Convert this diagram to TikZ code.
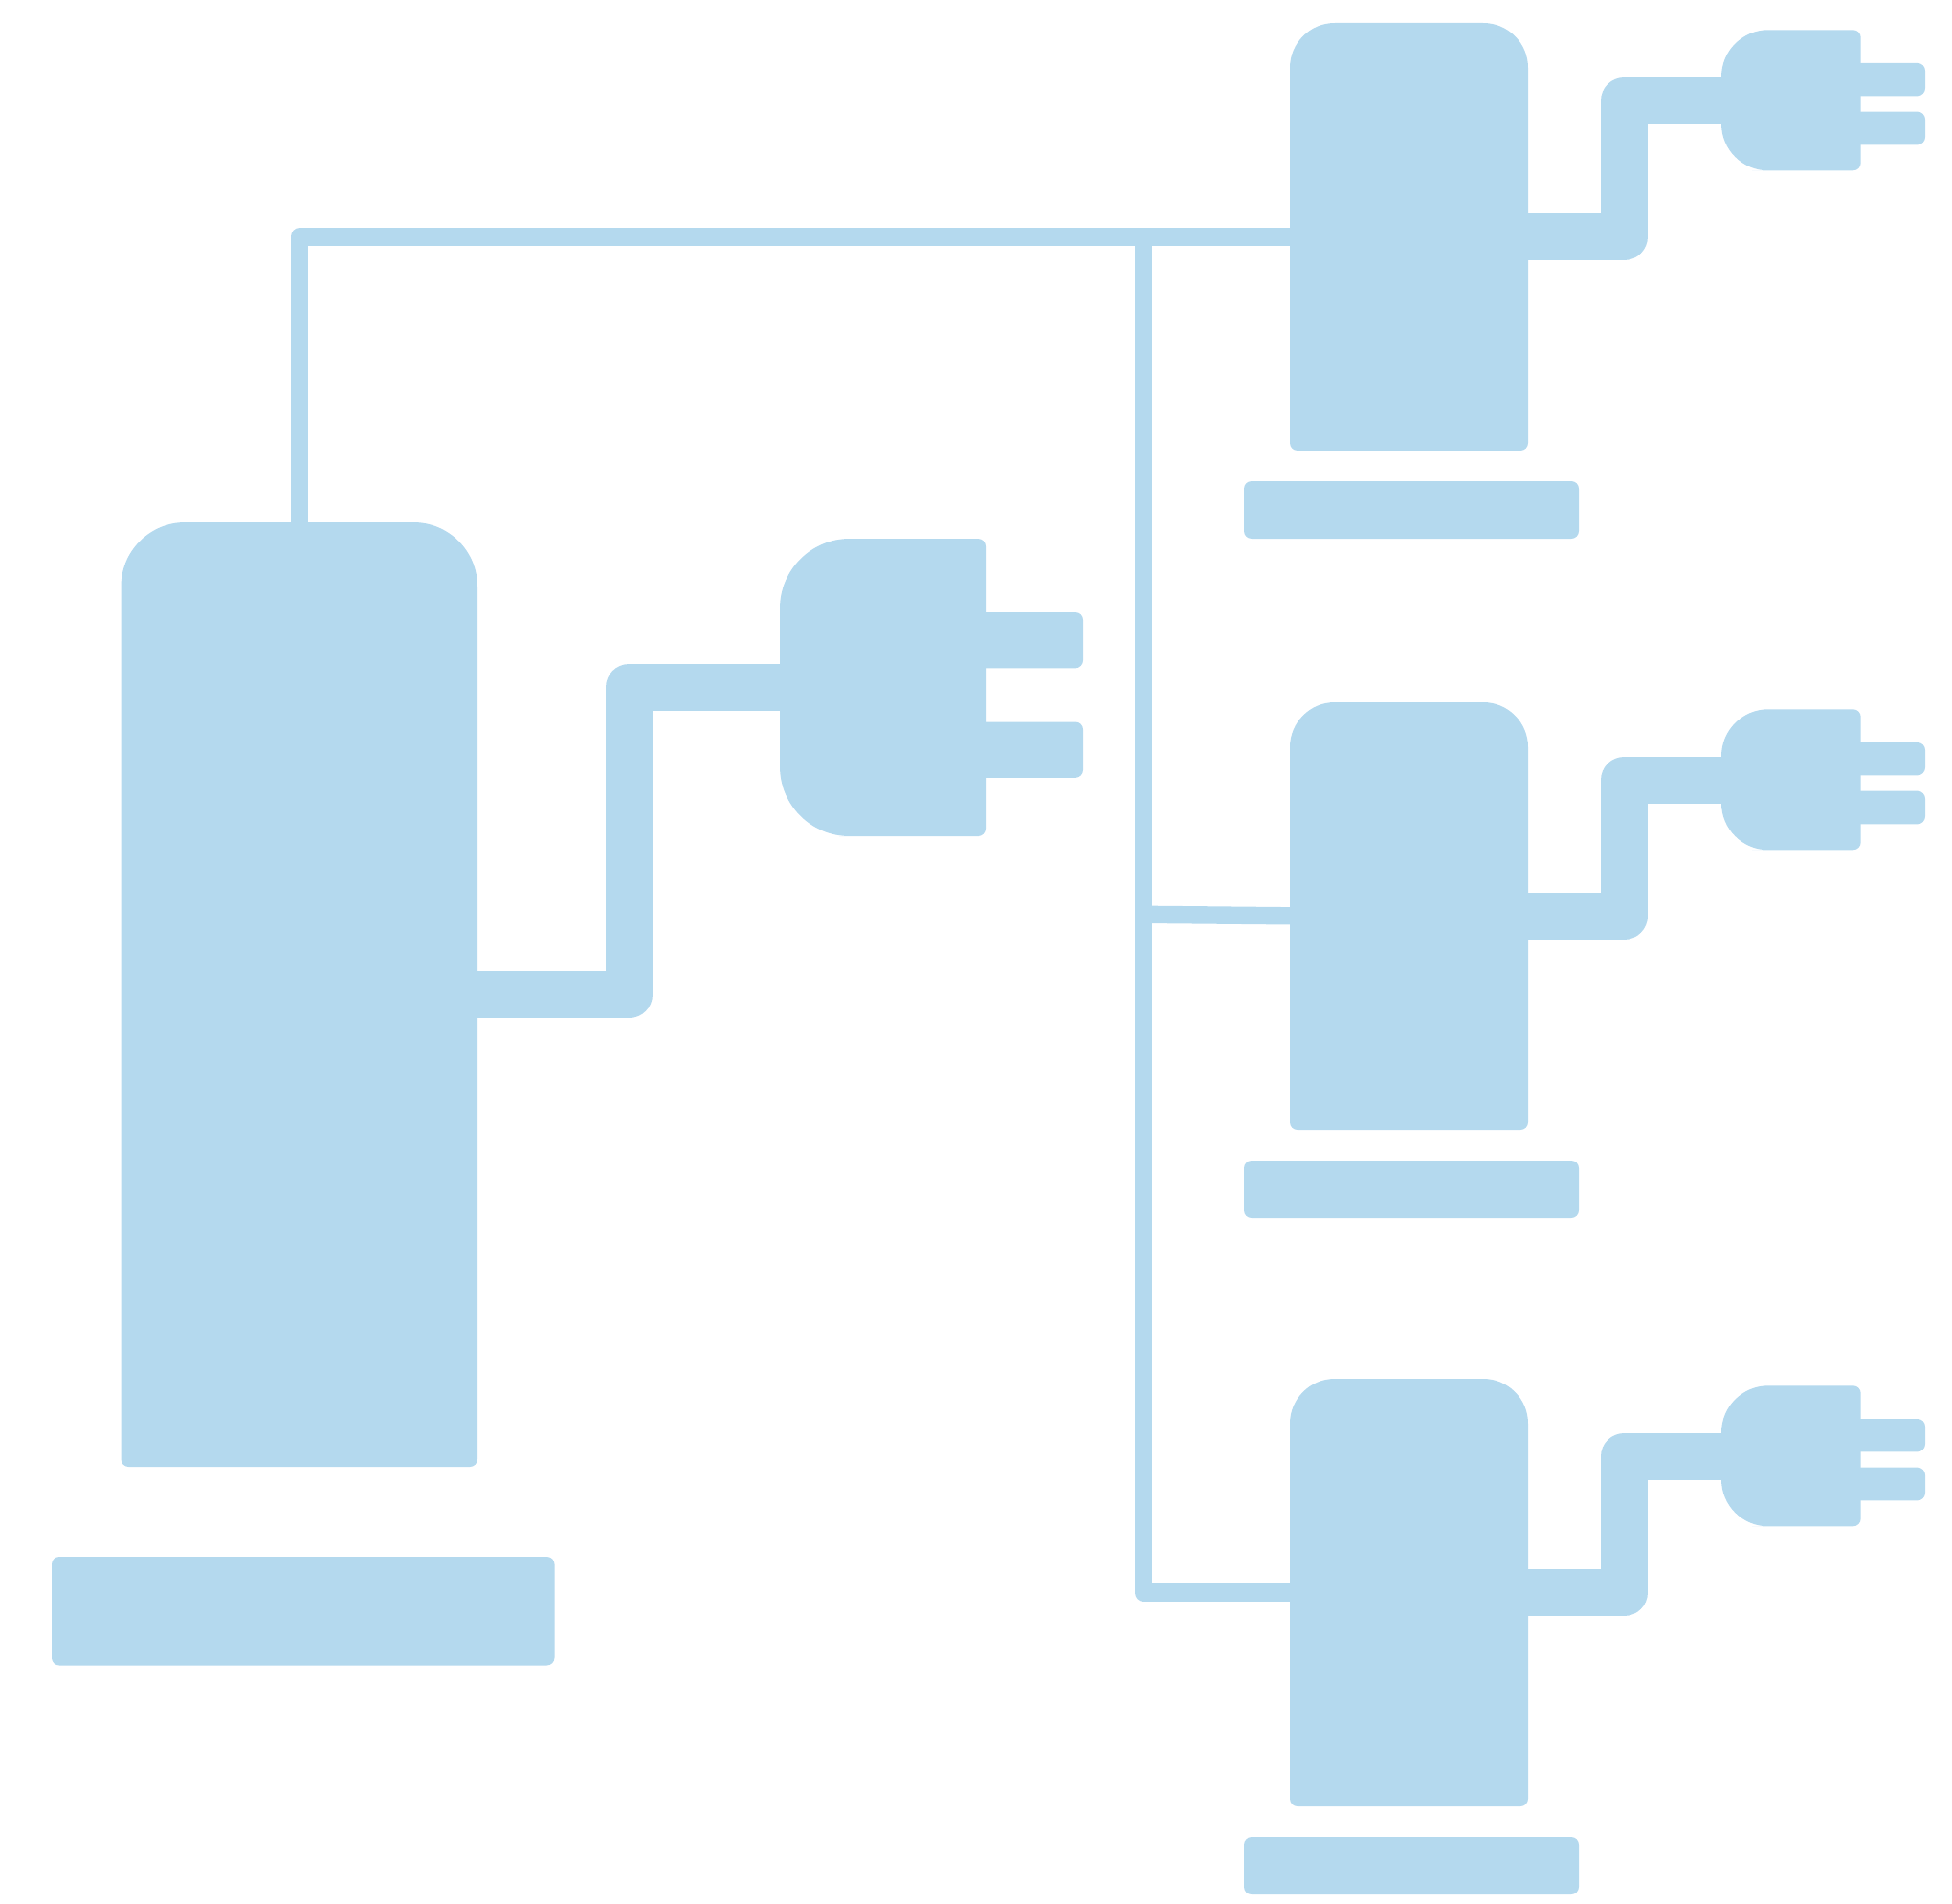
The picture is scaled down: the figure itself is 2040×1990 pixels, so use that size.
\documentclass[tikz,border=0pt]{standalone}
\definecolor{tankblue}{HTML}{B4D9EE}
\tikzset{
  x=0.5pt,y=-0.5pt,
  solid shape/.style={fill=tankblue,draw=none},
  small round/.style={solid shape,rounded corners=4pt},
  cord/.style={draw=tankblue,line width=24.5pt,line join=round,line cap=butt},
  pipe/.style={draw=tankblue,line width=9.2pt,line join=round,line cap=butt},
  branchunit/.pic={
    % tank body
    \path[solid shape] (1348,300) [rounded corners=23.5pt] -- (1348,24) -- (1597,24) -- (1597,300)
      [rounded corners=4pt] -- (1597,471) -- (1348,471) -- cycle;
    % base
    \fill[small round] (1300,503) rectangle (1650,563);
    % plug body
    \path[solid shape] (1880,31.3) [rounded corners=24.5pt] -- (1799,31.3) -- (1799,178.3) -- (1880,178.3)
      [rounded corners=4pt] -- (1944.7,178.3) -- (1944.7,31.3) -- cycle;
    % prongs
    \fill[small round] (1920,66) rectangle (2012,100.3);
    \fill[small round] (1920,116.7) rectangle (2012,151.3);
    % anchors and cord
    \coordinate (-in) at (1370,247.5);
    \coordinate (-out) at (1590,247.2);
    \coordinate (-lo) at (1697.5,247.2);
    \coordinate (-hi) at (1697.5,105.2);
    \coordinate (-plug) at (1815,105.2);
    \draw[cord] (-out) -- (-lo) -- (-hi) -- (-plug);
  }
}
\begin{document}
\begin{tikzpicture}
\useasboundingbox (0,0) rectangle (2040,1990);
% main tank
\path[solid shape] (126.5,900) [rounded corners=33.5pt] -- (126.5,546) -- (499,546) -- (499,900)
  [rounded corners=4pt] -- (499,1533) -- (126.5,1533) -- cycle;
\fill[small round] (54,1627) rectangle (579.5,1740.5);
% main plug
\path[solid shape] (950,563) [rounded corners=36.5pt] -- (815,563) -- (815,874) -- (950,874)
  [rounded corners=4pt] -- (1030,874) -- (1030,563) -- cycle;
\fill[small round] (1000,640) rectangle (1132,698.3);
\fill[small round] (1000,754.5) rectangle (1132,812.8);
\coordinate (mainout) at (490,1039.5);
\coordinate (mainlo) at (657.5,1039.5);
\coordinate (mainhi) at (657.5,718.5);
\coordinate (mainplug) at (830,718.5);
\draw[cord] (mainout) -- (mainlo) -- (mainhi) -- (mainplug);
% branch units
\pic (ua) at (0,0) {branchunit};
\pic (ub) at (0,710) {branchunit};
\pic (uc) at (0,1417) {branchunit};
% pipes
\coordinate (maintop) at (313,560);
\coordinate (corner) at (313,247.5);
\coordinate (trunktop) at (1194.9,247.5);
\coordinate (trunkmid) at (1194.9,955.8);
\coordinate (trunkend) at (1194.9,1664.5);
\draw[pipe] (maintop) -- (corner) -- (ua-in);
\draw[pipe] (trunktop) -- (trunkend) -- (uc-in);
\draw[pipe] (trunkmid) -- (ub-in);
\end{tikzpicture}
\end{document}
